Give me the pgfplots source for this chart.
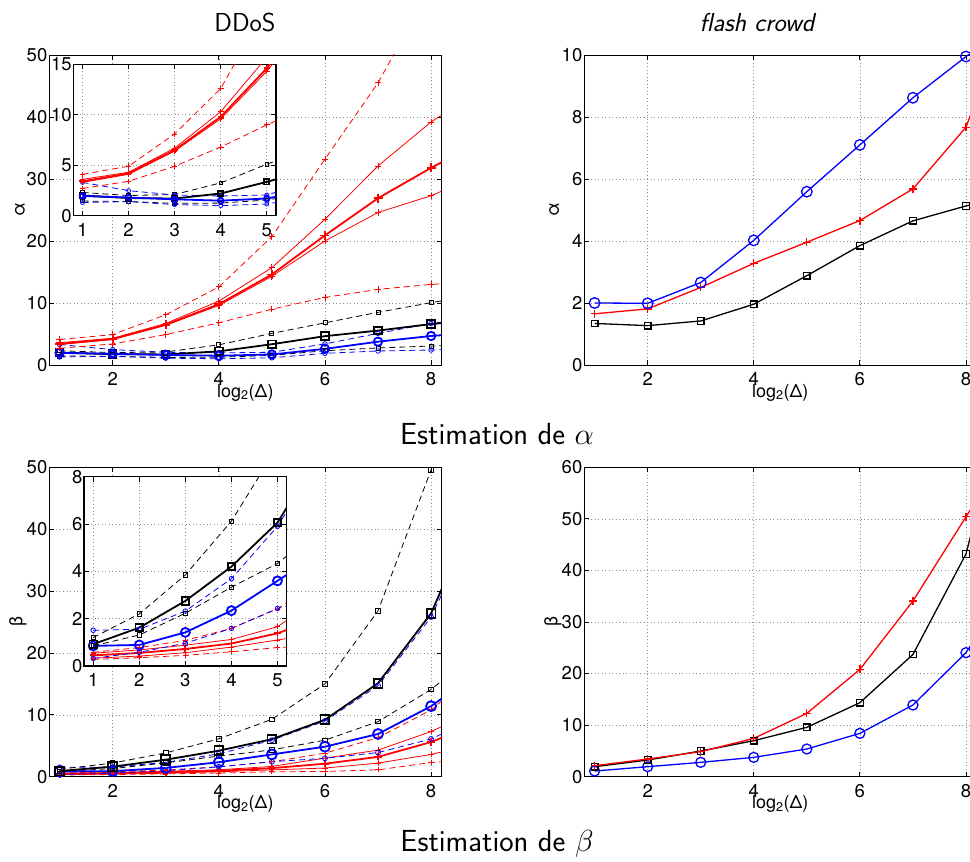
\documentclass[border=0pt]{standalone}
\usepackage{fix-cm}
\usepackage{fontspec}
\usepackage{pgfplots}
\usepackage{pgfplotstable}
\pgfplotsset{compat=1.18}
\newfontfamily\helv{TeX Gyre Heros}
\definecolor{gridc}{gray}{0.55}

% alpha, DDoS
\pgfplotstableread{
x rT rU rL rdU rdL kT kdU kdL bT bdU bdL
1 3.4 3.6 3.3 4.1 2.7 2.0 2.3 1.45 1.95 3.3 1.3
2 4.2 4.3 4.1 4.9 3.4 1.75 2.0 1.4 1.8 2.48 1.4
3 6.5 6.7 6.4 8.1 4.9 1.7 2.1 1.22 1.62 2.05 1.1
4 9.8 10.3 9.6 12.6 6.8 2.2 3.25 1.25 1.49 1.95 1.0
5 14.6 15.7 14.3 20.7 9.0 3.35 5.1 1.55 1.7 2.05 1.16
6 20.9 23.5 20.0 33.2 10.9 4.65 6.8 2.3 2.6 3.4 1.88
7 26.9 32.1 24.6 45.5 12.2 5.55 8.5 2.75 3.76 5.1 2.26
8 31.8 39.2 27.3 61 13.0 6.6 10.05 3.06 4.68 6.7 2.42
9 36.3 44.7 31 78 13.5 7.4 11.5 3.3 5.3 7.8 2.6
}\tabAD

% beta, DDoS
\pgfplotstableread{
x rT rU rL rdU rdL kT kdU kdL bT bdU bdL
1 0.45 0.54 0.33 0.58 0.28 0.92 1.2 0.85 0.85 1.51 0.32
2 0.55 0.68 0.42 0.78 0.35 1.62 2.2 1.31 0.89 1.55 0.58
3 0.72 0.88 0.56 1.08 0.45 2.75 3.85 2.23 1.42 2.32 0.96
4 0.95 1.12 0.8 1.59 0.6 4.2 6.12 3.33 2.34 3.69 1.59
5 1.38 1.66 1.1 2.41 0.78 6.06 9.27 4.33 3.6 5.9 2.43
6 2.1 3.0 1.4 3.8 0.85 9.2 15.0 5.9 4.85 9.0 2.97
7 3.2 4.3 2.2 6.3 1.1 15.1 26.8 8.9 6.9 14.7 3.9
8 5.6 7.3 3.6 10.8 2.3 26.4 49.6 14.1 11.4 25.8 6.1
9 9.1 11.3 5.6 18 2.9 46 90 21 17.5 44 10.1
}\tabBD

% alpha, flash crowd
\pgfplotstableread{
x blue red black
1 2.0 1.65 1.34
2 1.99 1.81 1.27
3 2.66 2.5 1.42
4 4.02 3.28 1.96
5 5.59 3.96 2.88
6 7.1 4.66 3.85
7 8.62 5.68 4.65
8 9.95 7.67 5.13
9 11.2 12.3 5.6
}\tabAF

% beta, flash crowd
\pgfplotstableread{
x red black blue
1 2.13 1.94 1.1
2 3.43 3.23 1.94
3 4.85 4.98 2.78
4 7.43 6.98 3.75
5 12.28 9.57 5.37
6 20.8 14.35 8.4
7 34.07 23.7 13.9
8 50.4 43.2 24.05
9 67 83 39.5
}\tabBF

\pgfplotsset{
  base/.style={
    scale only axis, anchor=south west,
    xmin=0.8, xmax=8.2,
    tick align=inside, xtick pos=both, ytick pos=both,
    grid=major,
    major grid style={gridc, line width=0.6pt, dash pattern=on 1pt off 2.5pt},
    axis line style={black, line width=0.8pt},
    every tick/.style={black, line width=0.8pt},
    major tick length=5pt,
    scaled ticks=false,
    /pgf/number format/assume math mode=true,
    tick label style={font=\helv\fontsize{18.5}{18.5}\selectfont, inner sep=1.5pt},
    xticklabel style={yshift=-6pt},
    label style={font=\helv\fontsize{18}{18}\selectfont, inner sep=0pt},
  },
  inset/.style={base, axis background/.style={fill=white},
    axis line style={black, line width=1.4pt}, xtick={1,2,3,4,5}, xmax=5.2},
  rthick/.style={red, solid, line width=1.8pt, mark=+, mark size=#1, mark options={solid}},
  rthin/.style={red, solid, line width=0.8pt, mark=+, mark size=#1, mark options={solid}},
  rdash/.style={red, dash pattern=on 6pt off 4pt, line width=0.8pt, mark=+, mark size=#1, mark options={solid}},
  kthick/.style={black, solid, line width=1.8pt, mark=square, mark size=#1, mark options={solid}},
  kdash/.style={black, dash pattern=on 6pt off 4pt, line width=0.8pt, mark=square, mark size=#1, mark options={solid}},
  bthick/.style={blue, solid, line width=1.8pt, mark=o, mark size=#1, mark options={solid}},
  bdash/.style={blue, dash pattern=on 6pt off 4pt, line width=0.8pt, mark=o, mark size=#1, mark options={solid}},
  fline/.style={solid, line width=1.3pt, mark options={solid}},
}

\begin{document}
\begin{tikzpicture}
\useasboundingbox (0,0) rectangle (970pt,862pt);

% ---------------- alpha DDoS main
\begin{axis}[base, at={(49pt,497pt)}, width=392.7pt, height=310pt,
  ymin=0, ymax=50, xtick={2,4,6,8}, ytick={0,10,20,30,40,50},
  xlabel={log\textsubscript{2}(Δ)}, ylabel={α},
  xlabel style={at={(axis description cs:0.5,-0.061)}, anchor=north},
  ylabel style={at={(axis description cs:-0.074,0.5)}, anchor=center}]
\addplot[kdash=2pt] table[x=x,y=kdU]{\tabAD};
\addplot[kdash=2pt] table[x=x,y=kdL]{\tabAD};
\addplot[bdash=2.3pt] table[x=x,y=bdU]{\tabAD};
\addplot[bdash=2.3pt] table[x=x,y=bdL]{\tabAD};
\addplot[kthick=3.8pt] table[x=x,y=kT]{\tabAD};
\addplot[bthick=4.2pt] table[x=x,y=bT]{\tabAD};
\addplot[rdash=3.2pt] table[x=x,y=rdU]{\tabAD};
\addplot[rdash=3.2pt] table[x=x,y=rdL]{\tabAD};
\addplot[rthin=3.2pt] table[x=x,y=rU]{\tabAD};
\addplot[rthin=3.2pt] table[x=x,y=rL]{\tabAD};
\addplot[rthick=4.5pt] table[x=x,y=rT]{\tabAD};
\end{axis}

% ---------------- alpha DDoS inset
\begin{axis}[inset, at={(73.3pt,646.3pt)}, width=202.7pt, height=151.4pt,
  ymin=0, ymax=15, ytick={0,5,10,15}]
\addplot[kdash=1.8pt] table[x=x,y=kdU]{\tabAD};
\addplot[kdash=1.8pt] table[x=x,y=kdL]{\tabAD};
\addplot[bdash=2pt] table[x=x,y=bdU]{\tabAD};
\addplot[bdash=2pt] table[x=x,y=bdL]{\tabAD};
\addplot[kthick=2.6pt] table[x=x,y=kT]{\tabAD};
\addplot[bthick=2.8pt] table[x=x,y=bT]{\tabAD};
\addplot[rdash=2.8pt] table[x=x,y=rdU]{\tabAD};
\addplot[rdash=2.8pt] table[x=x,y=rdL]{\tabAD};
\addplot[rthin=2.8pt] table[x=x,y=rU]{\tabAD};
\addplot[rthin=2.8pt] table[x=x,y=rL]{\tabAD};
\addplot[rthick=3.2pt] table[x=x,y=rT]{\tabAD};
\end{axis}

% ---------------- alpha flash crowd
\begin{axis}[base, at={(584pt,497pt)}, width=392.6pt, height=310pt,
  ymin=0, ymax=10, xtick={2,4,6,8}, ytick={0,2,4,6,8,10},
  xlabel={log\textsubscript{2}(Δ)}, ylabel={α},
  xlabel style={at={(axis description cs:0.5,-0.061)}, anchor=north},
  ylabel style={at={(axis description cs:-0.076,0.5)}, anchor=center}]
\addplot[fline, black, mark=square, mark size=3.3pt] table[x=x,y=black]{\tabAF};
\addplot[fline, red, mark=+, mark size=4pt] table[x=x,y=red]{\tabAF};
\addplot[fline, blue, mark=o, mark size=5.3pt] table[x=x,y=blue]{\tabAF};
\end{axis}

% ---------------- beta DDoS main
\begin{axis}[base, at={(49pt,85.3pt)}, width=392.7pt, height=309.4pt,
  ymin=0, ymax=50, xtick={2,4,6,8}, ytick={0,10,20,30,40,50},
  xlabel={log\textsubscript{2}(Δ)}, ylabel={β},
  xlabel style={at={(axis description cs:0.5,-0.061)}, anchor=north},
  ylabel style={at={(axis description cs:-0.079,0.5)}, anchor=center}]
\addplot[rdash=2.6pt] table[x=x,y=rdL]{\tabBD};
\addplot[rthin=2.6pt] table[x=x,y=rL]{\tabBD};
\addplot[rthin=2.6pt] table[x=x,y=rU]{\tabBD};
\addplot[rthick=3.6pt] table[x=x,y=rT]{\tabBD};
\addplot[rdash=2.6pt] table[x=x,y=rdU]{\tabBD};
\addplot[bdash=2.5pt] table[x=x,y=bdU]{\tabBD};
\addplot[bdash=2.5pt] table[x=x,y=bdL]{\tabBD};
\addplot[kdash=2.2pt] table[x=x,y=kdU]{\tabBD};
\addplot[kdash=2.2pt] table[x=x,y=kdL]{\tabBD};
\addplot[bthick=5pt] table[x=x,y=bT]{\tabBD};
\addplot[kthick=4.4pt] table[x=x,y=kT]{\tabBD};
\end{axis}

% ---------------- beta DDoS inset
\begin{axis}[inset, at={(84pt,196pt)}, width=202.7pt, height=189.3pt,
  ymin=0, ymax=8, ytick={0,2,4,6,8}]
\addplot[rdash=2.4pt] table[x=x,y=rdL]{\tabBD};
\addplot[rthin=2.4pt] table[x=x,y=rL]{\tabBD};
\addplot[rthin=2.4pt] table[x=x,y=rU]{\tabBD};
\addplot[rthick=3.2pt] table[x=x,y=rT]{\tabBD};
\addplot[rdash=2.4pt] table[x=x,y=rdU]{\tabBD};
\addplot[bdash=2.3pt] table[x=x,y=bdU]{\tabBD};
\addplot[bdash=2.3pt] table[x=x,y=bdL]{\tabBD};
\addplot[kdash=2.1pt] table[x=x,y=kdU]{\tabBD};
\addplot[kdash=2.1pt] table[x=x,y=kdL]{\tabBD};
\addplot[bthick=4.5pt] table[x=x,y=bT]{\tabBD};
\addplot[kthick=3.7pt] table[x=x,y=kT]{\tabBD};
\end{axis}

% ---------------- beta flash crowd
\begin{axis}[base, at={(584pt,85.3pt)}, width=392.6pt, height=309.4pt,
  ymin=0, ymax=60, xtick={2,4,6,8}, ytick={0,10,20,30,40,50,60},
  xlabel={log\textsubscript{2}(Δ)}, ylabel={β},
  xlabel style={at={(axis description cs:0.5,-0.061)}, anchor=north},
  ylabel style={at={(axis description cs:-0.079,0.5)}, anchor=center}]
\addplot[fline, blue, mark=o, mark size=5pt] table[x=x,y=blue]{\tabBF};
\addplot[fline, black, mark=square, mark size=3.3pt] table[x=x,y=black]{\tabBF};
\addplot[fline, red, mark=+, mark size=4pt] table[x=x,y=red]{\tabBF};
\end{axis}

% ---------------- titles
\node[font=\sffamily\fontsize{26}{30}\selectfont] at (245pt,840pt) {DDoS};
\node[font=\sffamily\itshape\fontsize{26}{30}\selectfont] at (757pt,840pt) {flash crowd};
\node[font=\sffamily\fontsize{30.5}{34}\selectfont] at (497pt,428pt) {Estimation de $\alpha$};
\node[font=\sffamily\fontsize{30.5}{34}\selectfont] at (497pt,18pt) {Estimation de $\beta$};
\end{tikzpicture}
\end{document}
